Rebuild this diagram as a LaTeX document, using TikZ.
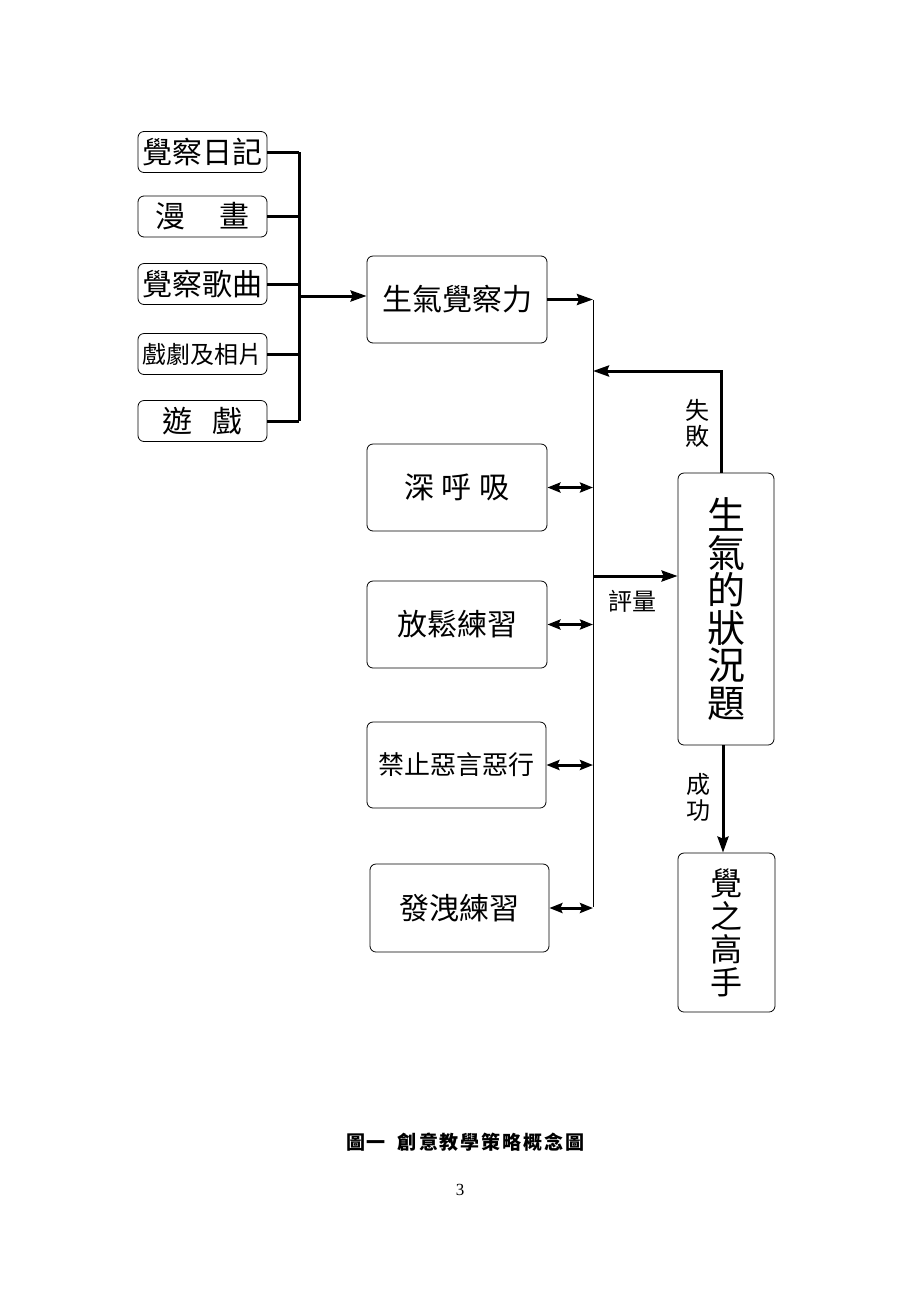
\documentclass[tikz,border=0pt]{standalone}
\usepackage{fontspec}
\setmainfont{Liberation Serif}
\newfontfamily\zhfont{Noto Sans CJK TC}
\usetikzlibrary{arrows.meta}

\tikzset{
  box/.style={draw, rounded corners=6pt, line width=0.8pt, inner sep=0pt, font=\zhfont},
  heavy/.style={line width=3pt},
  busline/.style={line width=0.8pt},
  tip/.style={-{Stealth[length=16pt,width=11pt,inset=2pt]}},
  twotips/.style={{Stealth[length=13pt,width=10pt,inset=2pt]}-{Stealth[length=13pt,width=10pt,inset=2pt]}},
  tag/.style={font=\zhfont\fontsize{24}{26}\selectfont, align=center, inner sep=0pt},
}
\newcommand{\fs}[1]{\fontsize{#1}{#1}\selectfont}

\begin{document}
\begin{tikzpicture}[x=1pt,y=-1pt]
\useasboundingbox (0,0) rectangle (920,1302);

% methods on the left
\draw 	(202.5,152) node[box,minimum width=129pt,minimum height=41pt](a1){\fs{30}覺察日記}
		(202.5,216.5) node[box,minimum width=129pt,minimum height=41pt](a2){\fs{30}漫\hspace{34pt}畫}
		(202.5,284) node[box,minimum width=129pt,minimum height=41pt](a3){\fs{30}覺察歌曲}
		(202.5,354) node[box,minimum width=129pt,minimum height=41pt](a4){\fs{24}戲劇及相片}
		(202.5,421) node[box,minimum width=129pt,minimum height=41pt](a5){\fs{30}遊\hspace{20pt}戲};

% middle column
\draw 	(457,299.5) node[box,minimum width=180pt,minimum height=87pt](b1){\fs{30}生氣覺察力}
		(457,487.5) node[box,minimum width=180pt,minimum height=87pt](b2){\fs{30}深\hspace{8pt}呼\hspace{8pt}吸}
		(457,624.5) node[box,minimum width=180pt,minimum height=87pt](b3){\fs{30}放鬆練習}
		(456.5,765) node[box,minimum width=179pt,minimum height=86pt](b4){\fs{26}禁止惡言惡行}
		(459.5,908) node[box,minimum width=179pt,minimum height=88pt](b5){\fs{30}發洩練習};

% right column
\draw 	(726,609) node[box,minimum width=96pt,minimum height=272pt,align=center,
			font=\zhfont\fontsize{38}{37.5}\selectfont](c1){生\\氣\\的\\狀\\況\\題}
		(726.5,932.5) node[box,minimum width=97pt,minimum height=159pt,align=center,
			font=\zhfont\fontsize{32}{33}\selectfont](c2){覺\\之\\高\\手};

% buses
\coordinate (l0) at (299,152);
\coordinate (l1) at (299,421);
\coordinate (lj) at (299,296);
\coordinate (r0) at (593,300);
\coordinate (r1) at (593,907);
\coordinate (fail) at (721,371);
\coordinate (eval) at (593,576);
\coordinate (win) at (723,0);

\draw[heavy] (l0) -- (l1);
\foreach \n in {1,...,5}
  \draw[heavy] (a\n.east) -- (a\n.east -| l0);
\draw[heavy,tip] (lj) -- (lj -| b1.west);

\draw[busline] (r0) -- (r1);
\draw[heavy,tip] (b1.east) -- (b1.east -| r0);
\foreach \n in {2,...,5}
  \draw[heavy,twotips] (b\n.east) -- (b\n.east -| r0);

\draw[heavy,tip] (c1.north -| fail) -- (fail) -- (fail -| r0);
\draw[heavy,tip] (eval) -- (eval -| c1.west);
\draw[heavy,tip] (c1.south -| win) -- (c2.north -| win);

% labels
\node[tag] (failtext) at (697,423) {失\\敗};
\node[tag] (evaltext) at (632,601) {評量};
\node[tag] (wintext) at (698,797) {成\\功};

% caption
\node[font=\zhfont\bfseries\fs{19}, inner sep=0pt] (cap) at (465.5,1142)
  {圖\kern2pt 一\kern12pt 創\kern2pt 意\kern2pt 教\kern2pt 學\kern2pt 策\kern2pt 略\kern2pt 概\kern2pt 念\kern2pt 圖};
\node[font=\fs{17}, inner sep=0pt] (page) at (460,1190) {3};
\end{tikzpicture}
\end{document}
